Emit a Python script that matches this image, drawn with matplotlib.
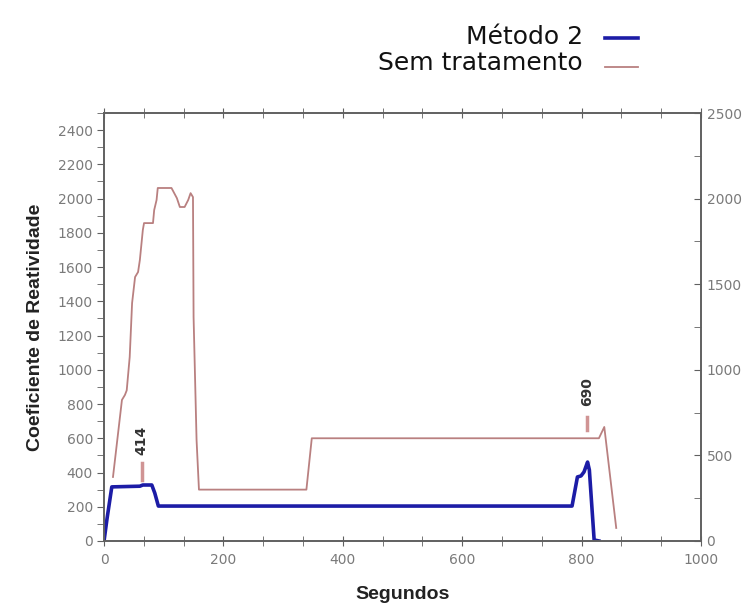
import numpy as np
import matplotlib
matplotlib.use("Agg")
import matplotlib.pyplot as plt
from matplotlib.lines import Line2D
from matplotlib.ticker import MultipleLocator

# ── data ──────────────────────────────────────────────────────────────────
sem_x = [15, 30, 35, 38, 43, 47, 52, 57, 60, 65, 67, 82, 84, 88, 90, 113,
         122, 127, 135, 141, 145, 149, 150, 155, 159, 339, 348, 829, 838, 858]
sem_y = [374, 824, 853, 880, 1075, 1390, 1542, 1571, 1641, 1817, 1857, 1857,
         1933, 1992, 2062, 2062, 2003, 1951, 1951, 1992, 2032, 2009, 1308,
         590, 300, 300, 600, 600, 666, 76]

m2_x = [0, 5, 13, 60, 65, 80, 85, 91, 784, 793, 799, 804, 807, 810, 813, 821, 829]
m2_y = [0, 130, 316, 320, 327, 327, 280, 204, 204, 374, 380, 403, 432, 461, 415, 6, 0]

peak_labels = ["414", "690"]
peak_x = [63, 809]
peak_lo = [356, 648]
peak_hi = [456, 724]
peak_text_y = [590, 870]

col_sem = "#b98080"
col_m2 = "#1c1ca6"
col_axis = "#606060"
col_tick = "#7a7a7a"

fig = plt.figure(figsize=(7.49, 6.06), dpi=100)
ax = fig.add_axes([0.1389, 0.1073, 0.797, 0.7062])

ax.plot(sem_x, sem_y, color=col_sem, lw=1.3)
ax.plot(m2_x, m2_y, color=col_m2, lw=2.6, solid_joinstyle="round")

for lab, px, lo, hi, ty in zip(peak_labels, peak_x, peak_lo, peak_hi, peak_text_y):
    ax.plot([px, px], [lo, hi], color="#d09494", lw=2.5)
    ax.text(px, ty, lab, rotation=90, ha="center", va="center",
            fontsize=10, fontweight="bold", color="#333333")

ax.set_xlim(0, 1000)
ax.set_ylim(0, 2500)
ax.xaxis.set_major_locator(MultipleLocator(200))
ax.xaxis.set_minor_locator(MultipleLocator(200 / 3))
ax.yaxis.set_major_locator(MultipleLocator(200))
ax.yaxis.set_minor_locator(MultipleLocator(100))
ax.set_yticks(np.arange(0, 2401, 200))

ax2 = ax.twinx()
ax2.set_ylim(0, 2500)
ax2.yaxis.set_major_locator(MultipleLocator(500))
ax2.yaxis.set_minor_locator(MultipleLocator(250))

for a in (ax, ax2):
    for s in a.spines.values():
        s.set_color(col_axis)
        s.set_linewidth(1.2)

ax.tick_params(axis="y", which="both", direction="out", length=5,
               color=col_axis, labelcolor=col_tick, labelsize=10, pad=3)
ax.tick_params(axis="x", which="both", direction="inout", length=7,
               color=col_axis, labelcolor=col_tick, labelsize=10, pad=5,
               top=True)
ax2.tick_params(axis="y", which="both", direction="in", length=5,
                color=col_axis, labelcolor=col_tick, labelsize=10, pad=4)

ax.set_xlabel("Segundos", fontsize=14, fontweight="bold",
              family="Liberation Sans", color="#222222", labelpad=14)
ax.set_ylabel("Coeficiente de Reatividade", fontsize=14, fontweight="bold",
              family="Liberation Sans", color="#222222", labelpad=10)

# legend, drawn by hand so the labels are right aligned
leg_labels = ["Método 2", "Sem tratamento"]
leg_colors = [col_m2, col_sem]
leg_lw = [2.6, 1.3]
leg_text_y = [44, 70]
leg_line_y = [38, 67]
for lab, c, lw, ty, ly in zip(leg_labels, leg_colors, leg_lw, leg_text_y, leg_line_y):
    fig.text(583 / 749, 1 - ty / 606, lab, ha="right", va="baseline",
             fontsize=18, color="#111111")
    fig.add_artist(Line2D([605 / 749, 638 / 749], [1 - ly / 606, 1 - ly / 606],
                          color=c, lw=lw))

fig.savefig("out.png", dpi=100)
